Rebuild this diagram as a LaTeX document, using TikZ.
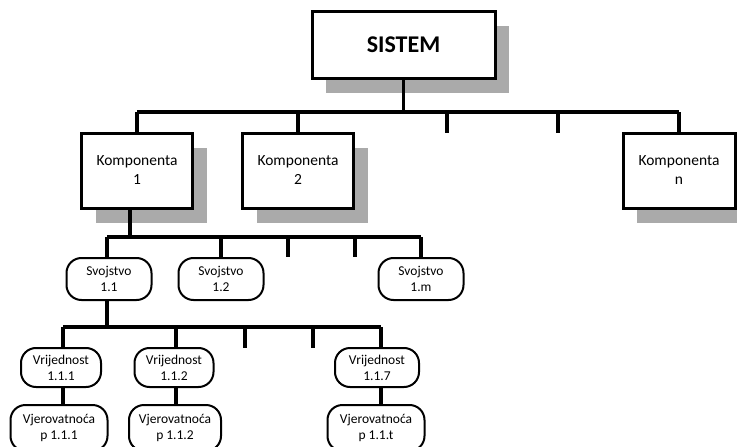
\documentclass[tikz,border=0pt]{standalone}
\usepackage{fontspec}
\setmainfont{Carlito}
\usetikzlibrary{shadows}
\definecolor{shadowgray}{RGB}{170,170,170}
\begin{document}
\begin{tikzpicture}[x=1pt,y=-1pt,
  bus/.style={line width=3.3pt},
  sqbox/.style={draw, line width=3pt, fill=white, align=center, inner sep=0pt,
    minimum width=111pt, minimum height=75pt,
    drop shadow={shadow xshift=14pt, shadow yshift=-15pt, opacity=1, fill=shadowgray},
    font=\fontsize{15.5}{19}\selectfont},
  rbox/.style={draw, line width=2pt, rounded corners=15pt, fill=white, align=center,
    inner sep=0pt, minimum height=42pt, font=\fontsize{13.5}{16}\selectfont},
]
\useasboundingbox (0,0) rectangle (737,447);
\clip (0,0) rectangle (737,447);

% top level
\node[sqbox, minimum width=183pt, minimum height=67pt,
      font=\fontsize{24}{28}\selectfont\bfseries] (sistem) at (403.5,44.5) {SISTEM};

% components
\node[sqbox] (k1) at (137,170.5) {Komponenta\\1};
\node[sqbox] (k2) at (298,170.5) {Komponenta\\2};
\node[sqbox, minimum width=112pt] (kn) at (679,170.5) {Komponenta\\n};

% properties
\node[rbox, minimum width=85pt] (s11) at (109,279) {Svojstvo\\1.1};
\node[rbox, minimum width=85pt] (s12) at (221,279) {Svojstvo\\1.2};
\node[rbox, minimum width=85pt] (s1m) at (421,279) {Svojstvo\\1.m};

% values
\node[rbox, minimum width=80pt, minimum height=39pt] (v111) at (61,367.5) {Vrijednost\\1.1.1};
\node[rbox, minimum width=79pt, minimum height=39pt] (v112) at (174,367.5) {Vrijednost\\1.1.2};
\node[rbox, minimum width=84pt, minimum height=39pt] (v117) at (377,367.5) {Vrijednost\\1.1.7};

% probabilities
\node[rbox, minimum width=97pt, minimum height=46pt] (p111) at (59,428) {Vjerovatnoća\\p 1.1.1};
\node[rbox, minimum width=92pt, minimum height=46pt] (p112) at (175,428) {Vjerovatnoća\\p 1.1.2};
\node[rbox, minimum width=97pt, minimum height=46pt] (p11t) at (376,428) {Vjerovatnoća\\p 1.1.t};

% bus rails
\coordinate (b1) at (0,112);
\coordinate (b2) at (0,237);
\coordinate (b3) at (0,327);

% first level
\draw[bus] (sistem.south) -- (sistem.south |- b1);
\draw[bus] (k1.north |- b1) -- (kn.north |- b1);
\draw[bus] (k1.north |- b1) -- (k1.north);
\draw[bus] (k2.north |- b1) -- (k2.north);
\draw[bus] (kn.north |- b1) -- (kn.north);
\coordinate (e1) at (447,112);
\coordinate (e2) at (558,112);
\draw[bus] (e1) -- ++(0,21);
\draw[bus] (e2) -- ++(0,21);

% second level
\draw[bus] ([xshift=-7pt]k1.south) -- ([xshift=-7pt]k1.south |- b2);
\draw[bus] ([xshift=-2pt]s11.north |- b2) -- (s1m.north |- b2);
\draw[bus] ([xshift=-2pt]s11.north |- b2) -- ([xshift=-2pt]s11.north);
\draw[bus] (s12.north |- b2) -- (s12.north);
\draw[bus] (s1m.north |- b2) -- (s1m.north);
\coordinate (e3) at (288,237);
\coordinate (e4) at (355,237);
\draw[bus] (e3) -- ++(0,20);
\draw[bus] (e4) -- ++(0,20);

% third level
\draw[bus] ([xshift=-2pt]s11.south) -- ([xshift=-2pt]s11.south |- b3);
\draw[bus] ([xshift=2pt]v111.north |- b3) -- ([xshift=4pt]v117.north |- b3);
\draw[bus] ([xshift=2pt]v111.north |- b3) -- ([xshift=2pt]v111.north);
\draw[bus] ([xshift=2pt]v112.north |- b3) -- ([xshift=2pt]v112.north);
\draw[bus] ([xshift=4pt]v117.north |- b3) -- ([xshift=4pt]v117.north);
\coordinate (e5) at (245,327);
\coordinate (e6) at (313,327);
\draw[bus] (e5) -- ++(0,21);
\draw[bus] (e6) -- ++(0,21);

% value to probability
\draw[bus] ([xshift=2pt]v111.south) -- ([xshift=2pt]v111.south |- p111.north);
\draw[bus] ([xshift=2pt]v112.south) -- ([xshift=2pt]v112.south |- p112.north);
\draw[bus] ([xshift=4pt]v117.south) -- ([xshift=4pt]v117.south |- p11t.north);
\end{tikzpicture}
\end{document}
